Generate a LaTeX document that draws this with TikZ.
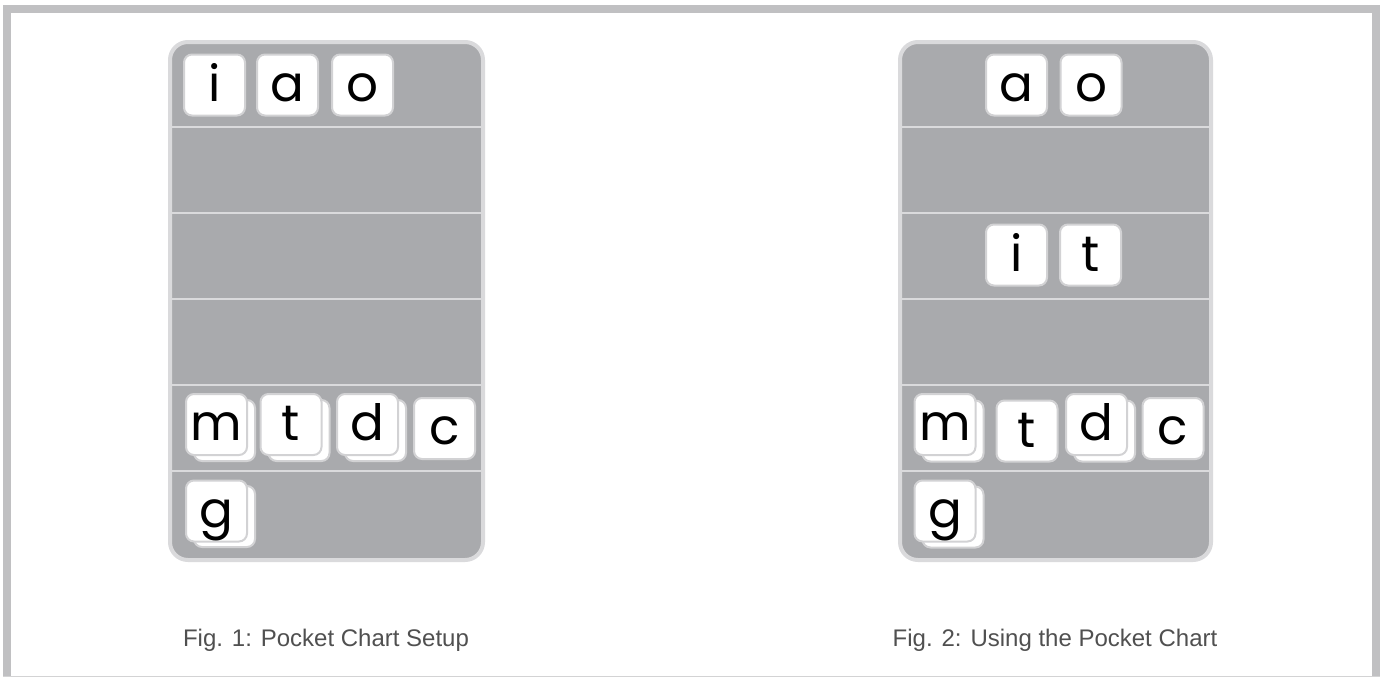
\documentclass[tikz,border=0pt]{standalone}
\usepackage{fontspec}
\setmainfont{Liberation Sans}
\newfontfamily\tilefont{Poppins}
\definecolor{framegray}{RGB}{192, 192, 194}
\definecolor{chartgray}{RGB}{169, 170, 173}
\definecolor{pocketline}{RGB}{218, 218, 220}
\definecolor{tileedge}{RGB}{210, 210, 212}
\definecolor{captiongray}{RGB}{80, 80, 80}
\def\tilesize{61pt}
\def\tileround{8pt}
\def\chartround{18pt}
\tikzset{
  tile/.style={draw=tileedge, fill=white, line width=2pt, rounded corners=\tileround,
    minimum size=\tilesize, inner sep=0pt, text height=32pt, text depth=0pt,
    font=\tilefont\fontsize{50}{50}\selectfont},
  caption/.style={anchor=base, text=captiongray, font=\fontsize{24}{28}\selectfont}
}

\begin{document}
\begin{tikzpicture}[x=1pt, y=-1pt, line join=round]

                 \useasboundingbox (0, 0) rectangle (1381, 678);
                 \fill[white] (0, 0) rectangle (1381, 678);

                 % frame
                 \fill[framegray] (3, 5) rectangle (1380, 13);
                 \fill[framegray] (3, 5) rectangle (11, 677);
                 \fill[framegray] (1372, 5) rectangle (1380, 677);
                 \draw[framegray!70, line width=1.5pt] (3, 676.5) -- (1380, 676.5);

                 % pocket charts
                 \draw[pocketline, fill=chartgray, line width=4pt, rounded corners=\chartround]
                 (170, 42) rectangle (483, 560);
                 \draw[pocketline, fill=chartgray, line width=4pt, rounded corners=\chartround]
                 (900, 42) rectangle (1211, 560);

                 \foreach \y in {127, 213, 299, 385, 471} {
                     \draw[pocketline, line width=2.5pt] (172, \y) -- (481, \y);
                     \draw[pocketline, line width=2.5pt] (902, \y) -- (1209, \y);
                 }

                 % fig. 1
                 \node[tile] (ia) at (214.5, 85) {i};
                 \node[tile] (aa) at (287.5, 85) {a};
                 \node[tile] (oa) at (362.5, 85) {o};

                 \node[tile] (mabehind) at (224.5, 430.5) {};
                 \node[tile] (ma) at (216.5, 424.5) {m};
                 \node[tile] (tabehind) at (299, 430.5) {};
                 \node[tile] (ta) at (291, 424.5) {t};
                 \node[tile] (dabehind) at (375.5, 430.5) {};
                 \node[tile] (da) at (367.5, 424.5) {d};
                 \node[tile] (ca) at (444.5, 428.5) {c};

                 \node[tile] (gabehind) at (224.5, 516.5) {};
                 \node[tile] (ga) at (216.5, 511) {g};

                 % fig. 2
                 \node[tile] (ab) at (1016.5, 85) {a};
                 \node[tile] (ob) at (1091, 85) {o};

                 \node[tile] (ib) at (1016.5, 255) {i};
                 \node[tile] (tb) at (1090.5, 255) {t};

                 \node[tile] (mbbehind) at (953, 431) {};
                 \node[tile] (mb) at (945, 424.5) {m};
                 \node[tile] (tbb) at (1027, 431) {t};
                 \node[tile] (dbbehind) at (1104.5, 431) {};
                 \node[tile] (db) at (1096.5, 424.5) {d};
                 \node[tile] (cb) at (1173, 428.5) {c};

                 \node[tile] (gbbehind) at (953, 517) {};
                 \node[tile] (gb) at (945, 511) {g};

                 % captions
                 \node[caption] (captiona) at (326, 646) {Fig. 1: Pocket Chart Setup};
                 \node[caption] (captionb) at (1055, 646) {Fig. 2: Using the Pocket Chart};

             \end{tikzpicture}
\end{document}
